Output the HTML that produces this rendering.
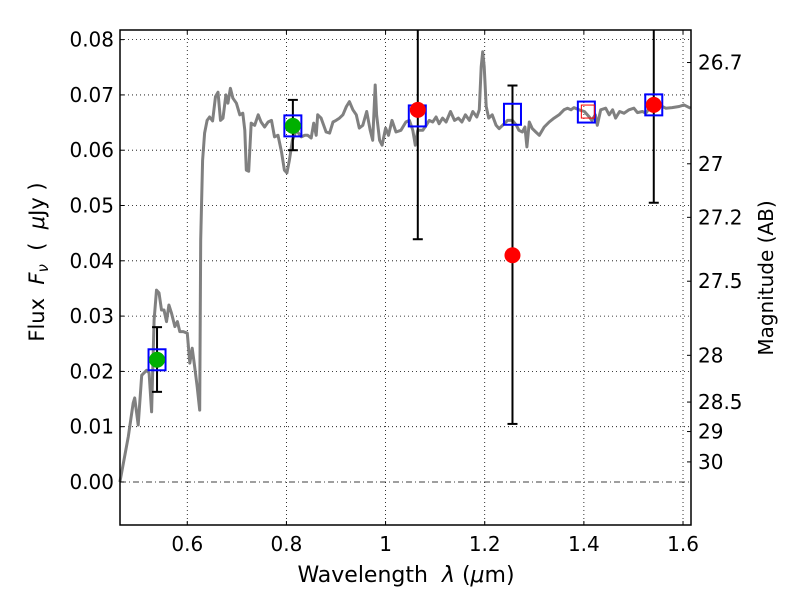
<!DOCTYPE html>
<html><head><meta charset="utf-8"><style>
body{margin:0;background:#fff;}
svg{display:block;font-family:"DejaVu Sans","Liberation Sans",sans-serif;}
.pre{white-space:pre;}
</style></head><body>
<svg id="chart" width="800" height="600" viewBox="0 0 800 600" xmlns="http://www.w3.org/2000/svg">
<rect x="0" y="0" width="800" height="600" fill="#fff"/>
<g id="grid"></g>
<g id="spec"></g>
<g id="marks"></g>
<g id="axes"></g>
<text class="pre" x="406" y="582" font-size="22" text-anchor="middle">Wavelength  <tspan font-style="italic">λ</tspan> (<tspan font-style="italic">μ</tspan>m)</text>
<text class="pre" transform="translate(44,262) rotate(-90)" font-size="21" text-anchor="middle">Flux  <tspan font-style="italic">F</tspan><tspan font-style="italic" font-size="15" dy="4">ν</tspan><tspan dy="-4">  (  </tspan><tspan font-style="italic">μ</tspan>Jy )</text>
<text transform="translate(773,278) rotate(-90)" font-size="20" text-anchor="middle">Magnitude (AB)</text>
</svg>
<script>
const specLam=[0.464,0.481,0.491,0.494,0.501,0.508,0.518,0.523,0.528,0.533,0.538,0.543,0.548,0.553,0.558,0.563,0.568,0.575,0.580,0.585,0.592,0.600,0.605,0.610,0.615,0.620,0.625,0.627,0.631,0.635,0.640,0.645,0.651,0.657,0.662,0.667,0.672,0.678,0.682,0.687,0.692,0.699,0.706,0.712,0.716,0.719,0.724,0.729,0.736,0.743,0.749,0.756,0.763,0.770,0.776,0.783,0.790,0.796,0.801,0.806,0.812,0.820,0.830,0.837,0.843,0.850,0.855,0.860,0.863,0.870,0.880,0.887,0.894,0.900,0.907,0.914,0.921,0.927,0.934,0.941,0.947,0.954,0.962,0.969,0.974,0.979,0.982,0.988,0.993,1.000,1.006,1.013,1.021,1.031,1.041,1.048,1.055,1.060,1.065,1.075,1.082,1.088,1.095,1.102,1.108,1.115,1.122,1.131,1.139,1.147,1.154,1.161,1.169,1.176,1.184,1.189,1.193,1.196,1.199,1.203,1.208,1.215,1.223,1.229,1.236,1.246,1.256,1.264,1.269,1.276,1.281,1.285,1.290,1.296,1.303,1.310,1.320,1.330,1.340,1.350,1.360,1.367,1.374,1.380,1.390,1.401,1.411,1.416,1.423,1.427,1.434,1.444,1.451,1.458,1.464,1.472,1.481,1.491,1.501,1.508,1.518,1.525,1.535,1.552,1.565,1.578,1.592,1.602,1.615];
const specFlux=[0.0000,0.0082,0.0143,0.0152,0.0103,0.0193,0.0202,0.0197,0.0127,0.0293,0.0347,0.0342,0.0311,0.0311,0.0290,0.0320,0.0306,0.0281,0.0290,0.0272,0.0272,0.0269,0.0215,0.0242,0.0208,0.0172,0.0130,0.0438,0.0582,0.0631,0.0654,0.0660,0.0653,0.0697,0.0705,0.0654,0.0658,0.0700,0.0685,0.0712,0.0694,0.0685,0.0664,0.0667,0.0636,0.0564,0.0562,0.0649,0.0645,0.0664,0.0651,0.0642,0.0651,0.0654,0.0624,0.0627,0.0597,0.0564,0.0559,0.0582,0.0618,0.0636,0.0624,0.0627,0.0627,0.0622,0.0649,0.0627,0.0664,0.0658,0.0633,0.0631,0.0651,0.0654,0.0658,0.0664,0.0679,0.0688,0.0673,0.0664,0.0640,0.0645,0.0670,0.0636,0.0618,0.0718,0.0664,0.0618,0.0609,0.0640,0.0627,0.0654,0.0633,0.0636,0.0651,0.0654,0.0636,0.0609,0.0636,0.0636,0.0645,0.0654,0.0651,0.0660,0.0648,0.0658,0.0651,0.0670,0.0654,0.0658,0.0651,0.0664,0.0654,0.0670,0.0660,0.0673,0.0751,0.0778,0.0751,0.0679,0.0658,0.0664,0.0645,0.0639,0.0645,0.0654,0.0654,0.0645,0.0636,0.0633,0.0642,0.0606,0.0651,0.0639,0.0633,0.0627,0.0642,0.0651,0.0658,0.0664,0.0673,0.0676,0.0673,0.0677,0.0673,0.0670,0.0660,0.0654,0.0664,0.0645,0.0673,0.0676,0.0664,0.0673,0.0658,0.0670,0.0667,0.0673,0.0676,0.0668,0.0670,0.0667,0.0679,0.0682,0.0676,0.0677,0.0679,0.0682,0.0676];
const greenLam=[0.539,0.813];
const greenFlux=[0.0221,0.0644];
const greenLo=[0.0163,0.0600];
const greenHi=[0.0280,0.0691];
const redLam=[1.065,1.256,1.541];
const redFlux=[0.0673,0.0410,0.0682];
const redLo=[0.0439,0.0105,0.0505];
const redHi=[0.0950,0.0717,0.0950];
const boxLam=[0.539,0.813,1.064,1.256,1.405,1.541];
const boxFlux=[0.0221,0.0644,0.0662,0.0665,0.0669,0.0682];
const smallBoxLam=[1.407];
const smallBoxFlux=[0.0669];
const xTicks=[0.6,0.8,1.0,1.2,1.4,1.6];
const xTickLabels=["0.6","0.8","1","1.2","1.4","1.6"];
const yTicks=[0,0.01,0.02,0.03,0.04,0.05,0.06,0.07,0.08];
const yTickLabels=["0.00","0.01","0.02","0.03","0.04","0.05","0.06","0.07","0.08"];
const magTicks=[26.7,27,27.2,27.5,28,28.5,29,30];
const magTickLabels=["26.7","27","27.2","27.5","28","28.5","29","30"];

const L=120,R=691,T=30,B=525;
const xMin=0.4643,xMax=1.6161,yMin=-0.00778,yMax=0.08174;
function X(v){return L+(v-xMin)/(xMax-xMin)*(R-L);}
function Y(v){return B-(v-yMin)/(yMax-yMin)*(B-T);}
const NS="http://www.w3.org/2000/svg";
function mk(tag,attrs,parent){const e=document.createElementNS(NS,tag);for(const k in attrs)e.setAttribute(k,attrs[k]);parent.appendChild(e);return e;}
const grid=document.getElementById('grid'),spec=document.getElementById('spec'),marks=document.getElementById('marks'),axes=document.getElementById('axes');

xTicks.forEach((t,i)=>{
  const g=mk('line',{x1:X(t),x2:X(t),y1:T,y2:B,stroke:'#000','stroke-width':0.8,'stroke-dasharray':'1,3'},grid);
  
  
  const a=mk('line',{x1:X(t),x2:X(t),y1:B,y2:B-4,stroke:'#000','stroke-width':1},axes);
  
  
  const b=mk('line',{x1:X(t),x2:X(t),y1:T,y2:T+4,stroke:'#000','stroke-width':1},axes);
  
  
  const tx=mk('text',{x:X(t),y:B+26,'font-size':20,'text-anchor':'middle'},axes);
  tx.textContent=xTickLabels[i];
  
  
});
yTicks.forEach((t,i)=>{
  const g=mk('line',{x1:L,x2:R,y1:Y(t),y2:Y(t),stroke:'#000','stroke-width':0.8,'stroke-dasharray':t===0?'6,3,1,3':'1,3'},grid);
  
  
  const a=mk('line',{x1:L,x2:L+4,y1:Y(t),y2:Y(t),stroke:'#000','stroke-width':1},axes);
  
  
  const tx=mk('text',{x:L-6,y:Y(t)+7,'font-size':20,'text-anchor':'end'},axes);
  tx.textContent=yTickLabels[i];
  
  
});
magTicks.forEach((m,i)=>{
  const f=Math.pow(10,(23.9-m)/2.5);
  const a=mk('line',{x1:R,x2:R-4,y1:Y(f),y2:Y(f),stroke:'#000','stroke-width':1},axes);
  
  
  const tx=mk('text',{x:R+7,y:Y(f)+7,'font-size':20,'text-anchor':'start'},axes);
  tx.textContent=magTickLabels[i];
  
  
});

let d='';
specLam.forEach((l,i)=>{d+=(i?'L':'M')+X(l).toFixed(1)+','+Y(specFlux[i]).toFixed(1);});
const sp=mk('path',{d:d,fill:'none',stroke:'#808080','stroke-width':3,'stroke-linejoin':'round'},spec);



function errbar(l,lo,hi,name){
  const hiC=Math.min(hi,yMax);
  const ln=mk('line',{x1:X(l),x2:X(l),y1:Y(lo),y2:Y(hiC),stroke:'#000','stroke-width':2},marks);
  
  
  mk('line',{x1:X(l)-5,x2:X(l)+5,y1:Y(lo),y2:Y(lo),stroke:'#000','stroke-width':2},marks);
  if(hi<yMax) mk('line',{x1:X(l)-5,x2:X(l)+5,y1:Y(hi),y2:Y(hi),stroke:'#000','stroke-width':2},marks);
}
greenLam.forEach((l,i)=>errbar(l,greenLo[i],greenHi[i],'green-error-bar'));
redLam.forEach((l,i)=>errbar(l,redLo[i],redHi[i],'red-error-bar'));
boxLam.forEach((l,i)=>{
  const r=mk('rect',{x:X(l)-8.5,y:Y(boxFlux[i])-10.5,width:17,height:21,fill:'none',stroke:'#0000ff','stroke-width':2},marks);
  
  
});
smallBoxLam.forEach((l,i)=>{
  const r=mk('rect',{x:X(l)-6,y:Y(smallBoxFlux[i])-7,width:13,height:13,fill:'none',stroke:'#ff0000','stroke-width':1},marks);
  
  
});
greenLam.forEach((l,i)=>{
  const c=mk('circle',{cx:X(l),cy:Y(greenFlux[i]),r:8,fill:'#00b000'},marks);
  
  
});
redLam.forEach((l,i)=>{
  const c=mk('circle',{cx:X(l),cy:Y(redFlux[i]),r:8,fill:'#ff0000'},marks);
  
  
});
const fr=mk('rect',{x:L,y:T,width:R-L,height:B-T,fill:'none',stroke:'#000','stroke-width':1.5},axes);


</script>
</body></html>
